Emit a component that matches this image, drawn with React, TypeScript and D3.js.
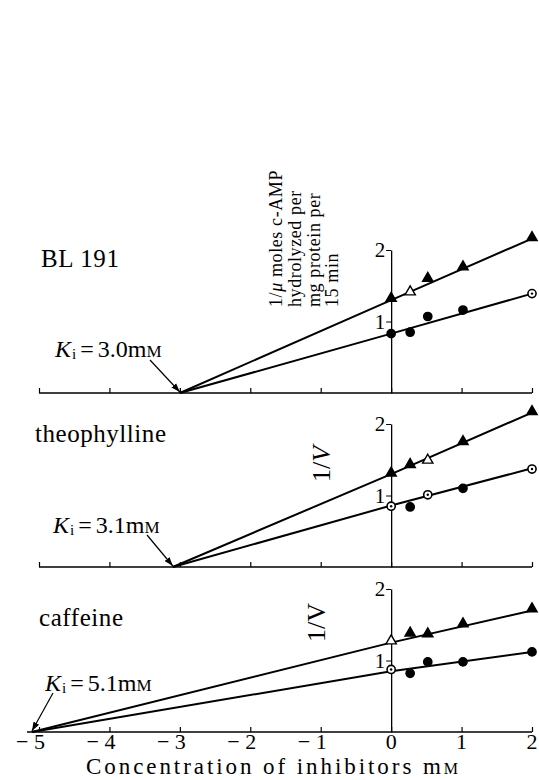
import React, { useEffect, useRef } from 'react';
import * as d3 from 'd3';

// concentration of inhibitor (mM) at which 1/V was measured
const concentrations = [0, 0.27, 0.52, 1.02, 2];
const xTicks = [-5, -4, -3, -2, -1, 0, 1, 2];
const yTicks = [1, 2];

const panelNames = ['BL 191', 'theophylline', 'caffeine'];
const kiValues = [3.0, 3.1, 5.1];
const kiLabels = ['3.0', '3.1', '5.1'];

// 1/V values (triangles = upper series, circles = lower series)
const bl191Triangles = [1.31, 1.4, 1.59, 1.75, 2.16];
const bl191Circles = [0.83, 0.85, 1.07, 1.16, 1.39];
const theoTriangles = [1.3, 1.42, 1.48, 1.74, 2.16];
const theoCircles = [0.85, 0.84, 1.01, 1.1, 1.37];
const caffTriangles = [1.26, 1.37, 1.36, 1.5, 1.71];
const caffCircles = [0.875, 0.82, 0.98, 0.98, 1.12];

// hand drawn fitted lines [x, 1/V]
const bl191TriangleFit = [[-3.0, 0], [0, 1.3], [2, 2.16]];
const bl191CircleFit = [[-3.0, 0], [0, 0.83], [2, 1.39]];
const theoTriangleFit = [[-3.1, 0], [0, 1.3], [2, 2.16]];
const theoCircleFit = [[-3.1, 0], [0, 0.86], [2, 1.38]];
const caffTriangleFit = [[-5.1, 0], [0, 1.25], [2, 1.7]];
const caffCircleFit = [[-5.1, 0], [0, 0.85], [2, 1.12]];

// open (hollow) markers
const bl191TriangleOpen = [false, true, false, false, false];
const bl191CircleOpen = [false, false, false, false, true];
const theoTriangleOpen = [false, false, true, false, false];
const theoCircleOpen = [true, false, true, false, true];
const caffTriangleOpen = [true, false, false, false, false];
const caffCircleOpen = [true, false, false, false, false];

const yLabelLines = ['moles c-AMP', 'hydrolyzed per', 'mg protein per', '15 min'];

const serif = '"Liberation Serif", "Times New Roman", serif';

function App() {
  const ref = useRef<SVGSVGElement>(null);

  useEffect(() => {
    const svg = d3.select(ref.current);
    svg.selectAll('*').remove();

    const x = d3.scaleLinear().domain([-5, 2]).range([39, 532]);

    const panels = [
      {
        name: panelNames[0], ki: kiValues[0], kiLabel: kiLabels[0],
        tri: bl191Triangles, circ: bl191Circles, triFit: bl191TriangleFit, circFit: bl191CircleFit,
        triOpen: bl191TriangleOpen, circOpen: bl191CircleOpen,
        base: 393, titleY: 267, titleX: 41, titleW: 78, kiX: 55, kiY: 357, arrow: [150, 360], yLabel: 'long',
      },
      {
        name: panelNames[1], ki: kiValues[1], kiLabel: kiLabels[1],
        tri: theoTriangles, circ: theoCircles, triFit: theoTriangleFit, circFit: theoCircleFit,
        triOpen: theoTriangleOpen, circOpen: theoCircleOpen,
        base: 567, titleY: 442, titleX: 35, titleW: 131, kiX: 53, kiY: 533, arrow: [147, 535], yLabel: 'italic',
      },
      {
        name: panelNames[2], ki: kiValues[2], kiLabel: kiLabels[2],
        tri: caffTriangles, circ: caffCircles, triFit: caffTriangleFit, circFit: caffCircleFit,
        triOpen: caffTriangleOpen, circOpen: caffCircleOpen,
        base: 732, titleY: 626, titleX: 39, titleW: 84, kiX: 45, kiY: 691, arrow: [53, 693], yLabel: 'plain',
      },
    ];

    svg.append('defs').append('marker')
      .attr('id', 'arrowhead')
      .attr('viewBox', '0 0 10 10')
      .attr('refX', 10).attr('refY', 5)
      .attr('markerWidth', 9).attr('markerHeight', 9)
      .attr('markerUnits', 'userSpaceOnUse')
      .attr('orient', 'auto')
      .append('path')
      .attr('d', 'M0,1.5 L10,5 L0,8.5 Z')
      .attr('fill', '#000');

    const line = d3.line<number[]>();

    panels.forEach((p, pi) => {
      const y = d3.scaleLinear().domain([0, 2]).range([p.base, p.base - 143]);
      const g = svg.append('g');
      line.x(d => x(d[0])).y(d => y(d[1]));

      // horizontal axis
      const xStart = pi === 2 ? x(-5.17) : x(-5);
      g.append('line')
        .attr('x1', xStart).attr('x2', x(2))
        .attr('y1', p.base).attr('y2', p.base)
        .attr('stroke', '#000').attr('stroke-width', 1.3);
      const xAxis = g.append('g')
        .attr('transform', `translate(0,${p.base})`)
        .call(d3.axisTop(x).tickValues(xTicks).tickSize(5).tickSizeOuter(0).tickFormat(() => ''));
      xAxis.select('.domain').remove();
      xAxis.selectAll('line').attr('stroke-width', 1.2);

      // vertical axis at x = 0
      const yAxis = g.append('g')
        .attr('transform', `translate(${x(0)},0)`)
        .call(d3.axisLeft(y).tickValues(yTicks).tickSize(5).tickSizeOuter(0).tickPadding(1).tickFormat(d3.format('d')));
      yAxis.select('.domain').attr('stroke-width', 1.3);
      yAxis.selectAll('text')
        .attr('font-family', serif).attr('font-size', 21).attr('fill', '#000');

      // fitted lines
      [p.triFit, p.circFit].forEach(fit => {
        g.append('path')
          .attr('d', line(fit))
          .attr('fill', 'none').attr('stroke', '#000').attr('stroke-width', 2);
      });

      // markers
      const tri = d3.symbol().type(d3.symbolTriangle).size(46);
      const circ = d3.symbol().type(d3.symbolCircle).size(52);
      concentrations.forEach((c, i) => {
        g.append('path')
          .attr('d', tri())
          .attr('transform', `translate(${x(c)},${y(p.tri[i]) - 1})`)
          .attr('fill', p.triOpen[i] ? '#fff' : '#000')
          .attr('stroke', '#000').attr('stroke-width', 1.4);
        g.append('path')
          .attr('d', circ())
          .attr('transform', `translate(${x(c)},${y(p.circ[i])})`)
          .attr('fill', p.circOpen[i] ? '#fff' : '#000')
          .attr('stroke', '#000').attr('stroke-width', 1.6);
        if (p.circOpen[i]) {
          g.append('circle')
            .attr('cx', x(c)).attr('cy', y(p.circ[i])).attr('r', 1.2).attr('fill', '#000');
        }
      });

      // panel title
      g.append('text')
        .attr('x', p.titleX).attr('y', p.titleY)
        .attr('font-family', serif).attr('font-size', 25)
        .attr('textLength', p.titleW).attr('lengthAdjust', 'spacing')
        .text(p.name);

      // Ki label
      const ki = g.append('text')
        .attr('x', p.kiX).attr('y', p.kiY)
        .attr('font-family', serif).attr('font-size', 24);
      ki.append('tspan').attr('font-style', 'italic').text('K');
      ki.append('tspan').attr('font-size', 15).attr('dy', 2).attr('dx', 1).text('i');
      ki.append('tspan').attr('dy', -2).attr('dx', 4).text('=');
      ki.append('tspan').attr('dx', 4).text(p.kiLabel + 'm');
      ki.append('tspan').attr('font-size', 17).text('M');

      g.append('line')
        .attr('x1', p.arrow[0]).attr('y1', p.arrow[1])
        .attr('x2', x(-p.ki)).attr('y2', y(0) - 1)
        .attr('stroke', '#000').attr('stroke-width', 1.2)
        .attr('marker-end', 'url(#arrowhead)');

      // y label
      if (p.yLabel === 'long') {
        const cols = [282, 301, 320, 338];
        yLabelLines.forEach((t, i) => {
          const tx = g.append('text')
            .attr('transform', `translate(${cols[i]},${p.base - 86}) rotate(-90)`)
            .attr('font-family', serif).attr('font-size', 18)
            .attr('letter-spacing', 0.6);
          if (i === 0) {
            tx.append('tspan').text('1/');
            tx.append('tspan').attr('font-style', 'italic').text('μ');
            tx.append('tspan').text(' ' + t);
          } else {
            tx.text(t);
          }
        });
      } else {
        const tx = g.append('text')
          .attr('transform', `translate(${p.yLabel === 'italic' ? 330 : 325},${p.base - (p.yLabel === 'italic' ? 85 : 90)}) rotate(-90)`)
          .attr('font-family', serif).attr('font-size', 26);
        tx.append('tspan').text('1/');
        tx.append('tspan').attr('font-style', p.yLabel === 'italic' ? 'italic' : 'normal').text('V');
      }

      // tick numbers under the last panel
      if (pi === 2) {
        xTicks.forEach(t => {
          g.append('text')
            .attr('x', t < 0 ? x(t) + 6 : x(t)).attr('y', p.base + 17)
            .attr('text-anchor', t < 0 ? 'end' : 'middle')
            .attr('font-family', serif).attr('font-size', 22)
            .text(t < 0 ? '− ' + Math.abs(t) : String(t));
        });
        const lab = g.append('text')
          .attr('x', 86).attr('y', p.base + 42)
          .attr('font-family', serif).attr('font-size', 23)
          .attr('textLength', 372).attr('lengthAdjust', 'spacing');
        lab.append('tspan').text('Concentration of inhibitors m');
        lab.append('tspan').attr('font-size', 16).text('M');
      }
    });
  }, []);

  return (
    <svg ref={ref} width={539} height={780}
      style={{ position: 'absolute', left: 0, top: 0, background: '#fff' }} />
  );
}

export default App;
